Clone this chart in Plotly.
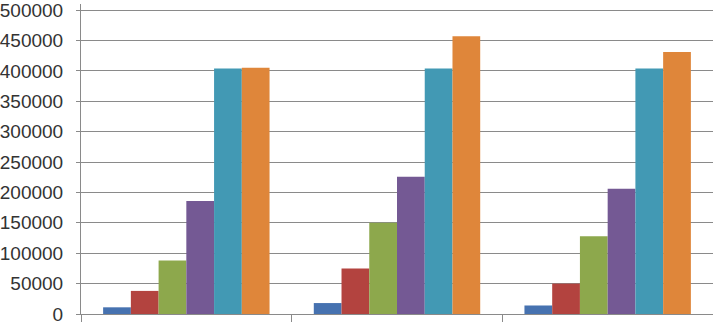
import plotly.graph_objects as go

categories = ["A", "B", "C"]
series_names = ["S1", "S2", "S3", "S4", "S5", "S6"]
s1 = [11000, 18000, 14000]
s2 = [38000, 75000, 50000]
s3 = [88000, 150000, 128000]
s4 = [186000, 226000, 206000]
s5 = [404000, 404000, 404000]
s6 = [405000, 457000, 431000]
series_values = [s1, s2, s3, s4, s5, s6]
colors = ["#4672b0", "#b3433f", "#8da84c", "#745994", "#4299b4", "#df863a"]
y_ticks = [0, 50000, 100000, 150000, 200000, 250000, 300000, 350000, 400000, 450000, 500000]

fig = go.Figure()
for name, vals, c in zip(series_names, series_values, colors):
    fig.add_trace(go.Bar(x=categories, y=vals, name=name, marker=dict(color=c, line=dict(width=0))))

fig.update_layout(
    width=713, height=325,
    margin=dict(l=78, r=0, t=1, b=7),
    barmode="group", bargap=0.21, bargroupgap=0,
    plot_bgcolor="white", paper_bgcolor="white",
    showlegend=False,
    font=dict(family="Liberation Sans, Arial, sans-serif", size=19, color="#333333"),
)
fig.update_yaxes(
    range=[0, 510000], tickvals=y_ticks, ticktext=[str(v) for v in y_ticks],
    showgrid=True, gridcolor="#8a8a8a", gridwidth=1,
    showline=True, linecolor="#8a8a8a", linewidth=1,
    ticks="outside", ticklen=4, tickcolor="#8a8a8a",
    ticklabelstandoff=9, zeroline=False, ticklabeloverflow="allow",
)
fig.update_xaxes(
    type="category", showticklabels=False, tickson="boundaries",
    ticks="outside", ticklen=7, tickcolor="#8a8a8a",
    showline=True, linecolor="#8a8a8a", linewidth=1, showgrid=False,
)
fig.write_html(
    "out.html",
    config={"displayModeBar": False},
    post_script="document.body.style.margin='0';document.body.style.overflow='hidden';",
)
